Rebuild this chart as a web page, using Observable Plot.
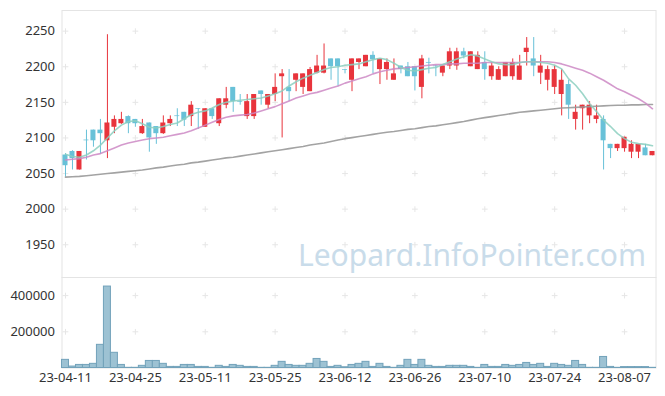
<!DOCTYPE html>
<html><head><meta charset="utf-8">
<script src="https://cdn.jsdelivr.net/npm/d3@7"></script>
<script src="https://cdn.jsdelivr.net/npm/@observablehq/plot@0.6"></script>
<style>
body{margin:0;background:#fff;}
#chart{width:665px;height:396px;}
#chart svg{display:block;}
</style></head><body><div id="chart"></div>
<script>
const dates = ["23-04-11","23-04-12","23-04-13","23-04-14","23-04-17","23-04-18","23-04-19","23-04-20","23-04-21","23-04-24",
"23-04-25","23-04-26","23-04-27","23-04-28","23-05-02","23-05-03","23-05-04","23-05-08","23-05-09","23-05-10",
"23-05-11","23-05-12","23-05-15","23-05-16","23-05-17","23-05-18","23-05-19","23-05-22","23-05-23","23-05-24",
"23-05-25","23-05-26","23-05-30","23-05-31","23-06-01","23-06-02","23-06-05","23-06-07","23-06-08","23-06-09",
"23-06-12","23-06-13","23-06-14","23-06-15","23-06-16","23-06-19","23-06-20","23-06-21","23-06-22","23-06-23",
"23-06-26","23-06-27","23-06-28","23-06-29","23-06-30","23-07-03","23-07-04","23-07-05","23-07-06","23-07-07",
"23-07-10","23-07-11","23-07-12","23-07-13","23-07-14","23-07-17","23-07-18","23-07-19","23-07-20","23-07-21",
"23-07-24","23-07-25","23-07-26","23-07-27","23-07-28","23-07-31","23-08-01","23-08-02","23-08-03","23-08-04",
"23-08-07","23-08-08","23-08-09","23-08-10","23-08-11"];
const open = [2076,2081,2055,2097,2111,2111,2096,2115,2120,2130,2126,2106,2121,2116,2106,2120,2131,2136,2130,2141,
2115,2141,2120,2146,2171,2151,2130,2130,2166,2146,2161,2186,2171,2181,2171,2165,2191,2191,2211,2211,
2196,2181,2206,2200,2216,2196,2196,2181,2201,2200,2200,2171,2206,2201,2191,2201,2201,2221,2200,2196,
2206,2186,2181,2186,2186,2181,2220,2211,2191,2181,2171,2161,2175,2126,2141,2131,2126,2126,2091,2085,
2085,2080,2080,2086,2075];
const high = [2078,2082,2081,2111,2111,2126,2245,2131,2136,2131,2126,2126,2121,2116,2131,2131,2141,2136,2151,2141,
2141,2141,2155,2171,2171,2161,2161,2161,2166,2161,2190,2196,2196,2190,2190,2199,2216,2232,2211,2211,
2196,2211,2211,2216,2221,2211,2211,2211,2201,2206,2200,2216,2212,2202,2201,2226,2226,2226,2221,2221,
2221,2206,2200,2206,2211,2216,2241,2241,2216,2201,2201,2196,2181,2146,2146,2151,2146,2131,2091,2091,
2101,2096,2091,2091,2081];
const low = [2045,2055,2055,2069,2087,2077,2071,2106,2119,2106,2115,2105,2080,2091,2105,2116,2116,2116,2116,2112,
2115,2126,2116,2141,2136,2146,2126,2126,2146,2141,2151,2100,2151,2165,2161,2165,2190,2190,2181,2172,
2190,2165,2196,2200,2190,2175,2181,2181,2190,2186,2166,2155,2190,2186,2186,2196,2195,2211,2200,2196,
2181,2181,2181,2186,2181,2181,2201,2186,2175,2166,2161,2131,2126,2111,2111,2120,2120,2055,2071,2081,
2080,2071,2071,2075,2075];
const close = [2061,2071,2081,2096,2096,2106,2121,2126,2126,2120,2120,2116,2100,2106,2121,2126,2130,2125,2146,2140,
2141,2130,2155,2155,2151,2150,2151,2161,2161,2161,2171,2190,2165,2190,2190,2196,2201,2201,2200,2200,
2195,2211,2211,2216,2210,2211,2206,2190,2196,2186,2186,2211,2205,2200,2201,2221,2221,2215,2221,2216,
2196,2201,2196,2206,2206,2201,2226,2201,2201,2196,2196,2181,2146,2136,2146,2146,2131,2096,2085,2091,
2101,2091,2091,2075,2081];
const volume = [45000,8000,17000,17000,23000,128000,450000,84000,17000,1000,1000,12000,39000,39000,23000,6000,6000,17000,17000,6000,
6000,1000,12000,6000,17000,12000,6000,6000,1000,1000,12000,34000,17000,12000,12000,23000,50000,34000,6000,12000,
4000,17000,23000,34000,6000,23000,6000,1000,12000,45000,17000,45000,12000,6000,6000,12000,12000,12000,6000,1000,
17000,6000,6000,17000,12000,17000,28000,17000,23000,6000,23000,17000,12000,39000,17000,1000,1000,61000,6000,1000,
5000,5000,5000,5000,1000];
const ma5 = [2077,2074,2073,2076,2082,2090,2100,2110,2118,2123,2124,2120,2115,2114,2116,2119,2121,2127,2133,2136,
2138,2142,2147,2150,2152,2153,2154,2155,2156,2159,2162,2166,2173,2179,2184,2188,2192,2196,2199,2200,
2202,2203,2204,2207,2210,2212,2210,2205,2199,2195,2194,2196,2198,2199,2203,2207,2211,2214,2217,2215,
2211,2207,2204,2203,2203,2206,2207,2207,2206,2205,2202,2197,2183,2174,2162,2148,2137,2125,2116,2106,
2099,2094,2092,2091,2089];
const ma20 = [2069,2070,2071,2073,2076,2078,2082,2086,2090,2093,2095,2097,2099,2100,2101,2103,2105,2107,2110,2114,
2118,2122,2126,2129,2131,2132,2133,2135,2138,2141,2144,2148,2152,2156,2159,2162,2164,2167,2170,2173,
2177,2180,2183,2186,2190,2193,2195,2197,2198,2199,2200,2201,2202,2203,2203,2204,2204,2205,2205,2205,
2206,2206,2206,2206,2206,2206,2207,2207,2207,2207,2206,2204,2201,2198,2195,2191,2186,2181,2175,2169,
2165,2160,2155,2149,2141];
const ma120 = [2045,2045.5,2046,2047,2048,2049,2050,2051,2052,2053,2054,2055,2056.5,2058,2059,2060.5,2062,2063,2065,2066,
2067.5,2069,2070.5,2072,2073,2074.5,2076,2077.5,2079,2080.5,2082,2083.5,2085,2086.5,2088,2090,2091.5,2093,2095,2097,
2099,2100.5,2102,2103.5,2105,2106.5,2108,2109,2110.5,2112,2113,2114.5,2116,2117,2118.5,2120,2121.5,2123,2125,2127,
2128.5,2130,2131.5,2133,2134.5,2136,2137,2138,2139,2140,2141,2142,2142.5,2143,2143.5,2144,2144.5,2145,2145.5,2146,
2146,2146.5,2146.5,2147,2147];
const xTickLabels = ["23-04-11","23-04-25","23-05-11","23-05-25","23-06-12","23-06-26","23-07-10","23-07-24","23-08-07"];
const priceTicks = [1950,2000,2050,2100,2150,2200,2250];
const volumeTicks = [200000,400000];
const watermark = "Leopard.InfoPointer.com";

const candles = dates.map((d, i) => ({i, date: d, open: open[i], high: high[i], low: low[i], close: close[i],
  volume: volume[i], ma5: ma5[i], ma20: ma20[i], ma120: ma120[i]}));
const xTicks = xTickLabels.map(l => dates.indexOf(l));

const W = 665, ML = 61.5, MR = 9.5;
const font = {fontFamily: "'Noto Sans', sans-serif", fontSize: "13px", color: "#333", background: "#fff", overflow: "visible"};
const xDomain = [-0.5, dates.length - 0.5];
const gridColor = "#e6e6e6";
const frameColor = "#e4e4e4";
const upDown = d => d.close >= d.open ? "up" : "down";
const colorScale = {domain: ["up", "down"], range: ["#e8343c", "#68c1d8"]};

const price = Plot.plot({
  width: W, height: 277, marginTop: 10, marginBottom: 0, marginLeft: ML, marginRight: MR,
  style: font,
  x: {type: "linear", domain: xDomain, axis: null},
  y: {domain: [1904, 2279], ticks: priceTicks, tickFormat: d3.format("d"), tickSize: 0, tickPadding: 7, label: null},
  color: colorScale,
  marks: [
    Plot.frame({stroke: frameColor}),
    Plot.dot(d3.cross(xTicks, priceTicks), {x: d => d[0], y: d => d[1], symbol: "plus", r: 2, stroke: gridColor, strokeWidth: 1}),
    Plot.text([watermark], {frameAnchor: "bottom-right", dx: -10, dy: -12, lineAnchor: "bottom", fontSize: 30, fill: "#c9dcea"}),
    Plot.ruleX(candles, {x: "i", y1: "low", y2: "high", stroke: upDown, strokeWidth: 1}),
    Plot.rect(candles, {x1: d => d.i - 0.36, x2: d => d.i + 0.36, y1: "open", y2: "close", fill: upDown}),
    Plot.lineY(candles, {x: "i", y: "ma120", stroke: "#999999", strokeWidth: 1.6, strokeOpacity: 0.9}),
    Plot.lineY(candles, {x: "i", y: "ma20", stroke: "#cc88c4", strokeWidth: 1.6, strokeOpacity: 0.85}),
    Plot.lineY(candles, {x: "i", y: "ma5", stroke: "#8ccfbf", strokeWidth: 1.6, strokeOpacity: 0.85})
  ]
});

const vol = Plot.plot({
  width: W, height: 119, marginTop: 0, marginBottom: 28.5, marginLeft: ML, marginRight: MR,
  style: font,
  x: {type: "linear", domain: xDomain, ticks: xTicks, tickFormat: i => dates[i], tickSize: 0, tickPadding: 5, label: null},
  y: {domain: [0, 500000], ticks: volumeTicks, tickFormat: d3.format("d"), tickSize: 0, tickPadding: 7, label: null},
  marks: [
    Plot.frame({stroke: frameColor}),
    Plot.dot(d3.cross(xTicks, volumeTicks), {x: d => d[0], y: d => d[1], symbol: "plus", r: 2, stroke: gridColor, strokeWidth: 1}),
    Plot.rect(candles, {x1: d => d.i - 0.5, x2: d => d.i + 0.5, y1: 0, y2: "volume", fill: "#9dc2d3", stroke: "#72a2ba", strokeWidth: 1})
  ]
});

document.getElementById("chart").append(price, vol);
</script>
</body></html>
